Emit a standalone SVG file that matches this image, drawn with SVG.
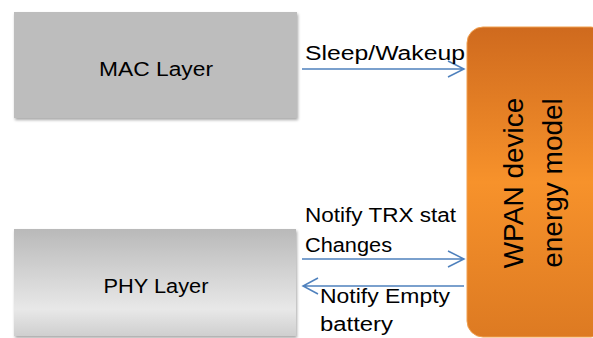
<svg xmlns="http://www.w3.org/2000/svg" width="593" height="338" viewBox="0 0 593 338">
<defs>
<linearGradient id="phyGrad" x1="0" y1="0" x2="0" y2="1">
<stop offset="0" stop-color="#b9b9b9"/>
<stop offset="0.75" stop-color="#e8e8e8"/>
<stop offset="1" stop-color="#cfcfcf"/>
</linearGradient>
<linearGradient id="orangeGrad" x1="0" y1="0" x2="0" y2="1">
<stop offset="0" stop-color="#cf6a1e"/>
<stop offset="0.5" stop-color="#f7922b"/>
<stop offset="1" stop-color="#dd7a22"/>
</linearGradient>
<filter id="shadow" x="-5%" y="-5%" width="112%" height="115%">
<feGaussianBlur in="SourceAlpha" stdDeviation="1.5"/>
<feOffset dx="1" dy="2" result="b"/>
<feComponentTransfer><feFuncA type="linear" slope="0.35"/></feComponentTransfer>
<feMerge><feMergeNode/><feMergeNode in="SourceGraphic"/></feMerge>
</filter>
</defs>
<style>
.lbl{font-family:"Liberation Sans",Arial,sans-serif;font-size:20px;fill:#000}
.title{font-family:"Liberation Sans",Arial,sans-serif;font-size:20px;fill:#000}
.big{font-family:"Liberation Sans",Arial,sans-serif;font-size:28px;fill:#000}
.conn{stroke:#4f81bd;stroke-width:1.5;fill:none}
</style>
<g id="mac">
<rect x="14" y="12" width="283" height="106" fill="#bdbdbd" filter="url(#shadow)"/>
<text class="title" x="156" y="76" text-anchor="middle" textLength="114" lengthAdjust="spacingAndGlyphs">MAC Layer</text>
</g>
<g id="phy">
<rect x="14" y="229" width="282" height="107" fill="url(#phyGrad)" filter="url(#shadow)"/>
<text class="title" x="156" y="293" text-anchor="middle" textLength="105" lengthAdjust="spacingAndGlyphs">PHY Layer</text>
</g>
<g id="wpan">
<rect x="467" y="27" width="140" height="310" rx="16" ry="16" fill="url(#orangeGrad)" stroke="#f0a050" stroke-width="1"/>
<text class="big" transform="translate(523,183) rotate(-90)" text-anchor="middle">WPAN device</text>
<text class="big" transform="translate(562,183) rotate(-90)" text-anchor="middle">energy model</text>
</g>
<g id="connectors">
<path class="conn" d="M302,69 H464 M448,61 L464,69 L448,77"/>
<path class="conn" d="M302,259 H464 M448,251 L464,259 L448,267"/>
<path class="conn" d="M464,286 H303 M318,278 L303,286 L318,294"/>
<text class="lbl" x="305" y="60" textLength="160" lengthAdjust="spacingAndGlyphs">Sleep/Wakeup</text>
<text class="lbl" x="305" y="222" textLength="151" lengthAdjust="spacingAndGlyphs">Notify TRX stat</text>
<text class="lbl" x="305" y="252" textLength="87" lengthAdjust="spacingAndGlyphs">Changes</text>
<text class="lbl" x="320" y="303" textLength="130" lengthAdjust="spacingAndGlyphs">Notify Empty</text>
<text class="lbl" x="320" y="331" textLength="73" lengthAdjust="spacingAndGlyphs">battery</text>
</g>
</svg>
